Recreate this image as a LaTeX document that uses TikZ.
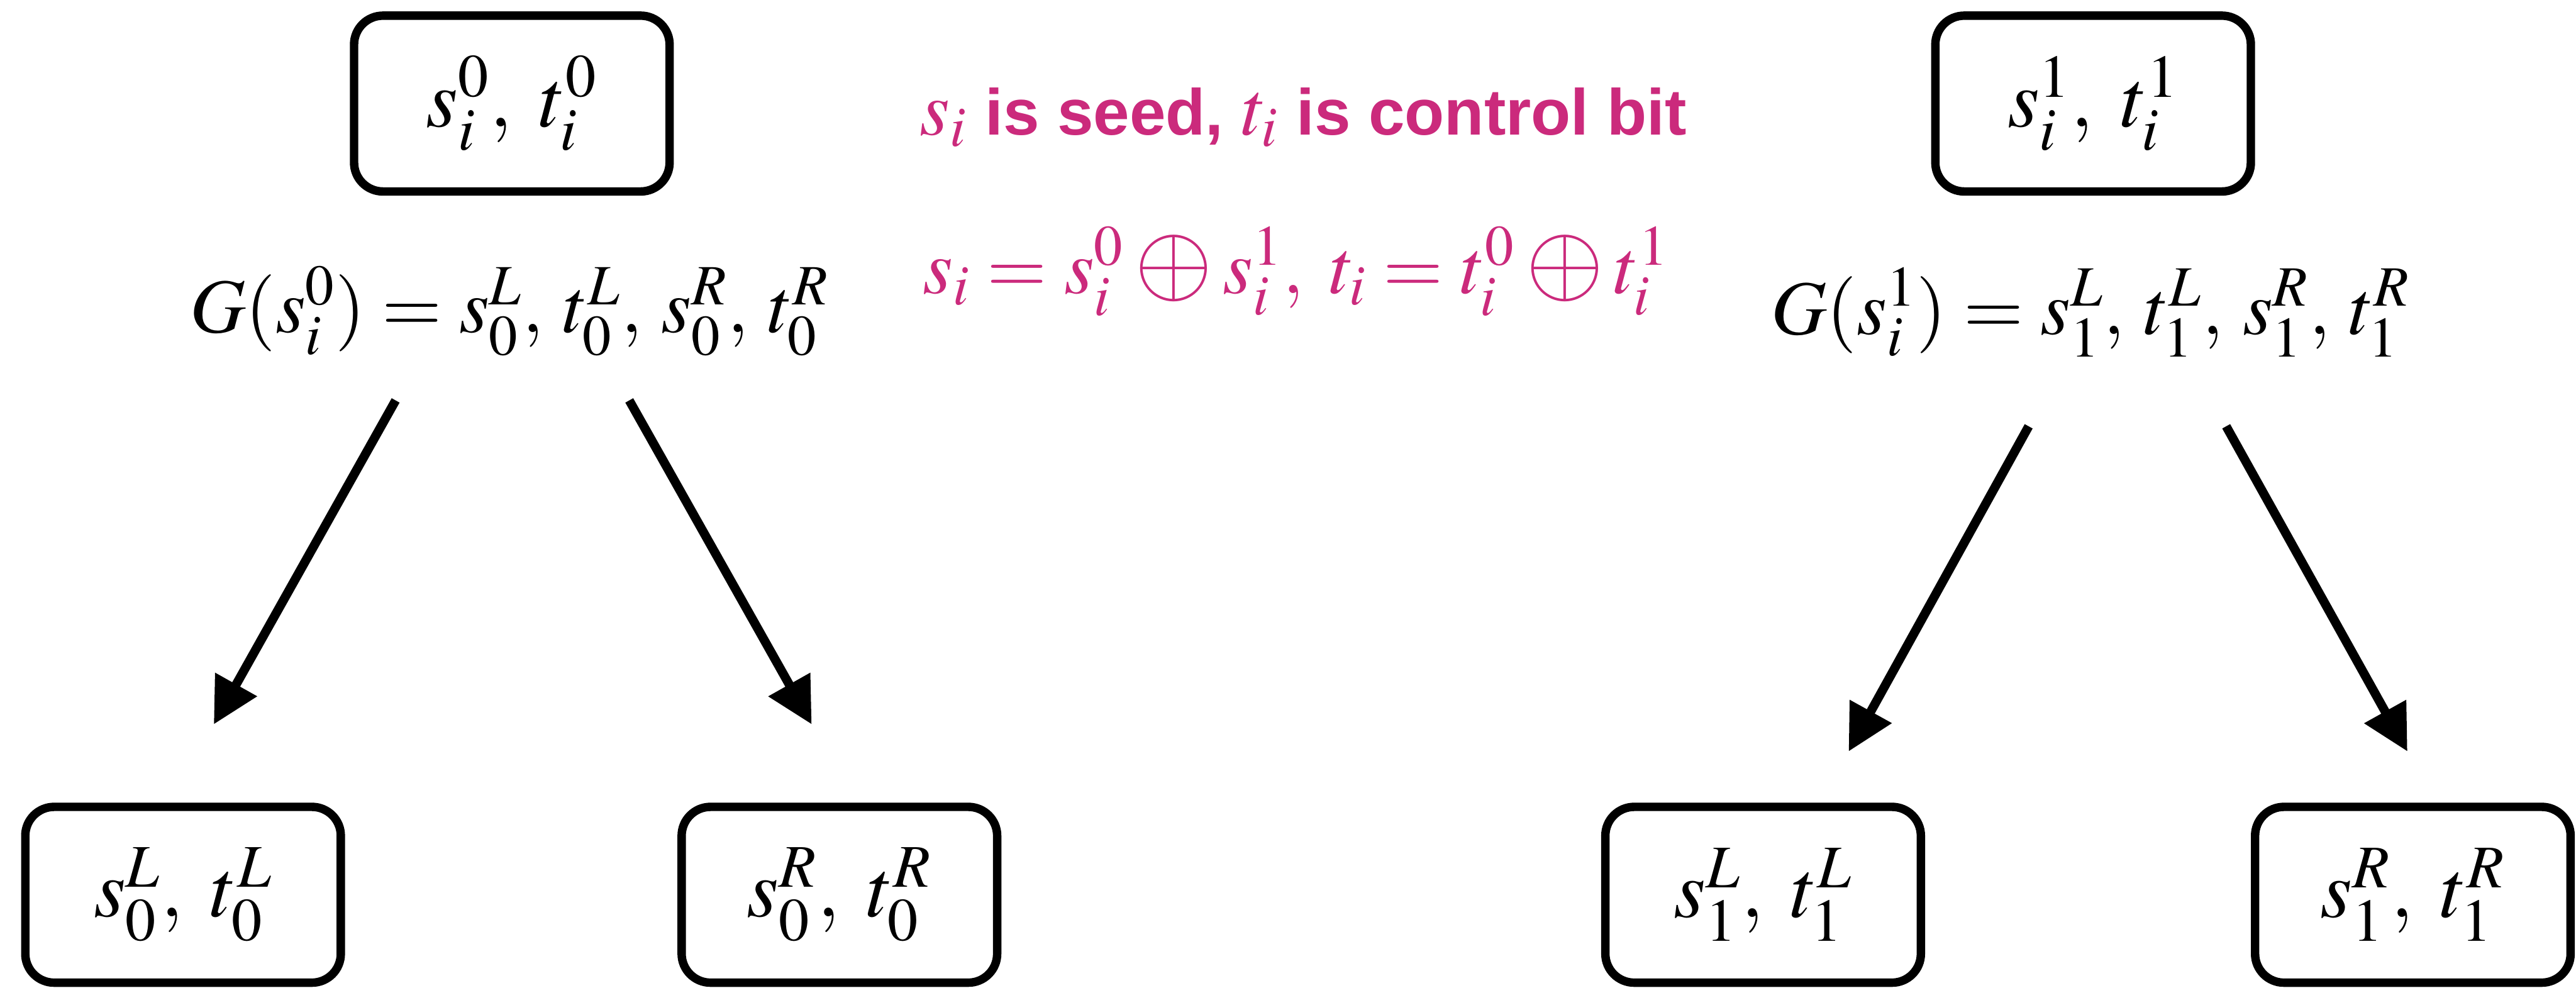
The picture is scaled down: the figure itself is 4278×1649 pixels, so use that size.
\documentclass[tikz,border=0pt]{standalone}
\usepackage{mathptmx}
\usepackage[no-math]{fontspec}
\newfontfamily\hv{Liberation Sans}
\usetikzlibrary{arrows.meta}
\definecolor{mag}{RGB}{203,42,124}
\newcommand\hvb{\hv\bfseries\fontsize{27}{32}\selectfont}
\newcommand\cm{,\;}
\newcommand\cmg{,\:}
\newcommand\bop{\mathbin{\scalebox{1.3}{$\oplus$}}}
\begin{document}
\begin{tikzpicture}[x=0.25pt,y=-0.25pt,
  box/.style={draw,line width=3.5pt,rounded corners=12pt,minimum width=131pt,minimum height=73pt,inner sep=0pt},
  eq/.style={inner sep=0pt,font=\fontsize{32}{38}\selectfont},
  beq/.style={inner sep=0pt,font=\fontsize{34}{40}\selectfont},
  arr/.style={line width=3.75pt,-{Triangle[length=19pt,width=19pt]}},
  note/.style={inner sep=0pt,text=mag,font=\fontsize{32}{38}\selectfont}]
\useasboundingbox (0,0) rectangle (4278,1649);
% top boxes
\node[box,beq] (top0) at (850,172) {$s_i^0\cm t_i^0$};
\node[box,beq] (top1) at (3476,172) {$s_i^1\cm t_i^1$};
% G lines
\node[eq,anchor=base] (g0) at (846,552) {$G(s_i^0) = s_0^L\cmg t_0^L\cmg s_0^R\cmg t_0^R$};
\node[eq,anchor=base] (g1) at (3472,555) {$G(s_i^1) = s_1^L\cmg t_1^L\cmg s_1^R\cmg t_1^R$};
% notes
\node[note,anchor=base west] (n1) at (1527,224) {$s_i${\hvb{} is seed, }$t_i${\hvb{} is control bit}};
\node[note,anchor=base west] (n2) at (1532,487) {$s_i = s_i^0 \bop s_i^1\cm t_i = t_i^0 \bop t_i^1$};
% bottom boxes
\node[box,beq] (b0L) at (304,1486) {$s_0^L\cm t_0^L$};
\node[box,beq] (b0R) at (1394,1486) {$s_0^R\cm t_0^R$};
\node[box,beq] (b1L) at (2928,1486) {$s_1^L\cm t_1^L$};
\node[box,beq] (b1R) at (4007,1486) {$s_1^R\cm t_1^R$};
% arrows
\coordinate (a1s) at (657,665);  \coordinate (a1e) at (355,1203);
\coordinate (a2s) at (1045,665); \coordinate (a2e) at (1348,1203);
\coordinate (a3s) at (3369,708); \coordinate (a3e) at (3070,1248);
\coordinate (a4s) at (3697,708); \coordinate (a4e) at (3998,1248);
\draw[arr] (a1s) -- (a1e);
\draw[arr] (a2s) -- (a2e);
\draw[arr] (a3s) -- (a3e);
\draw[arr] (a4s) -- (a4e);
\end{tikzpicture}
\end{document}
